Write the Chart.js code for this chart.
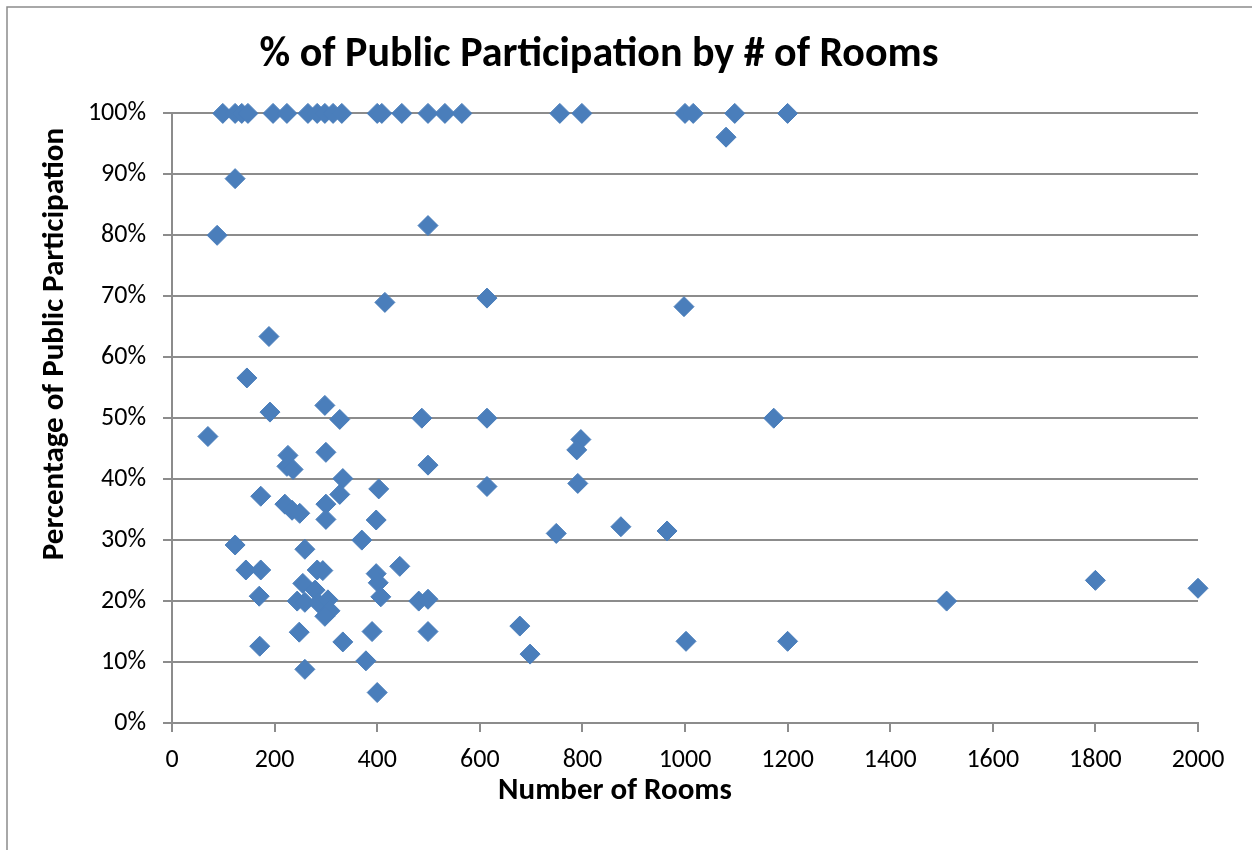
<!DOCTYPE html>
<html>
<head>
<meta charset="utf-8">
<title>% of Public Participation by # of Rooms</title>
<script src="https://cdn.jsdelivr.net/npm/chart.js@4.4.1/dist/chart.umd.min.js"></script>
<style>
  html, body { margin: 0; padding: 0; background: #fff; }
</style>
</head>
<body>
<canvas id="scatterChart" width="1252" height="850"></canvas>
<script>
// data: number of rooms vs % public participation
const rooms = [
  99, 123, 136, 148, 197, 224, 265, 283, 298, 314, 331, 400, 409, 448, 499, 532, 565, 756, 799, 1000, 1016, 1097, 1200,
  1080, 123, 88, 499, 614, 415, 998, 189, 146, 191, 298, 327, 487, 614, 1173, 70, 797, 789, 300, 226, 224, 236, 499,
  333, 403, 614, 791, 173, 327, 220, 300, 234, 249, 300, 398, 875, 965, 749, 370, 123, 259, 444, 144, 173, 283, 294,
  398, 402, 1800, 2000, 255, 279, 170, 407, 244, 259, 285, 304, 308, 298, 481, 499, 1510, 248, 390, 499, 678, 333,
  1002, 1200, 171, 378, 698, 259, 400
];
const participation = [
  100, 100, 100, 100, 100, 100, 100, 100, 100, 100, 100, 100, 100, 100, 100, 100, 100, 100, 100, 100, 100, 100, 100,
  96.1, 89.3, 80.0, 81.6, 69.7, 69.0, 68.3, 63.4, 56.6, 51.0, 52.1, 49.8, 50.0, 50.0, 50.0, 47.0, 46.5, 44.8, 44.4, 43.9, 42.1, 41.6, 42.3,
  40.1, 38.4, 38.8, 39.3, 37.2, 37.5, 35.9, 35.9, 34.9, 34.4, 33.4, 33.3, 32.2, 31.5, 31.1, 30.0, 29.2, 28.5, 25.7, 25.1, 25.1, 25.1, 25.0,
  24.5, 23.0, 23.4, 22.1, 22.9, 21.8, 20.8, 20.7, 20.0, 19.8, 19.7, 20.2, 18.4, 17.5, 20.0, 20.3, 20.0, 14.9, 15.0, 15.0, 15.9, 13.3,
  13.4, 13.4, 12.6, 10.2, 11.3, 8.8, 5.0
];
const xTicks = [0, 200, 400, 600, 800, 1000, 1200, 1400, 1600, 1800, 2000];
const yTicks = [0, 10, 20, 30, 40, 50, 60, 70, 80, 90, 100];

const chartTitle = '% of Public Participation by # of Rooms';
const xTitle = 'Number of Rooms';
const yTitle = 'Percentage of Public Participation';

const FONT = 'Carlito, Lato, sans-serif';
const GRID = '#8c8c8c';

const points = rooms.map((r, i) => ({ x: r, y: participation[i] }));

// outer frame + axis titles (Excel puts them off-centre)
const frameAndTitles = {
  id: 'frameAndTitles',
  beforeDraw(chart) {
    const ctx = chart.ctx;
    ctx.save();
    ctx.fillStyle = '#fff';
    ctx.fillRect(0, 0, chart.width, chart.height);
    ctx.strokeStyle = GRID;
    ctx.lineWidth = 1.5;
    ctx.beginPath();
    ctx.moveTo(7, chart.height);
    ctx.lineTo(7, 7);
    ctx.lineTo(chart.width, 7);
    ctx.stroke();
    ctx.restore();
  },
  afterDraw(chart) {
    const ctx = chart.ctx;
    ctx.save();
    ctx.fillStyle = '#000';
    ctx.font = 'bold 31px ' + FONT;
    ctx.textAlign = 'center';
    ctx.textBaseline = 'middle';
    ctx.fillText(xTitle, 615, 791);
    ctx.translate(55, 344);
    ctx.rotate(-Math.PI / 2);
    ctx.fillText(yTitle, 0, 0);
    ctx.restore();
  }
};

const config = {
  type: 'scatter',
  data: {
    datasets: [{
      label: 'Participation',
      data: points,
      pointStyle: 'rectRot',
      pointRadius: 10,
      pointHoverRadius: 10,
      backgroundColor: '#4a7ebb',
      borderColor: '#4a7ebb',
      borderWidth: 1,
      clip: false
    }]
  },
  options: {
    responsive: false,
    animation: false,
    devicePixelRatio: 1,
    layout: { padding: { left: 0, right: 54, top: 0, bottom: 0 } },
    plugins: {
      legend: { display: false },
      tooltip: { enabled: false },
      title: {
        display: true,
        text: chartTitle,
        color: '#000',
        font: { family: FONT, size: 42, weight: 'bold' },
        padding: { top: 30, bottom: 33 }
      }
    },
    scales: {
      x: {
        type: 'linear',
        min: 0,
        max: 2000,
        afterBuildTicks: (axis) => { axis.ticks = xTicks.map(v => ({ value: v })); },
        afterFit: (axis) => { axis.height = 127; },
        ticks: { color: '#000', font: { family: FONT, size: 26 }, padding: 13, maxRotation: 0, callback: (v) => String(v) },
        grid: { drawOnChartArea: false, drawTicks: true, tickLength: 9, color: GRID, lineWidth: 2 },
        border: { color: GRID, width: 2 }
      },
      y: {
        type: 'linear',
        min: 0,
        max: 100,
        afterBuildTicks: (axis) => { axis.ticks = yTicks.map(v => ({ value: v })); },
        afterFit: (axis) => { axis.width = 172; },
        ticks: { color: '#000', font: { family: FONT, size: 26 }, padding: 17, callback: (v) => v + '%' },
        grid: { drawTicks: true, tickLength: 9, color: GRID, lineWidth: 2 },
        border: { color: GRID, width: 2 }
      }
    }
  },
  plugins: [frameAndTitles]
};

const scatterChart = new Chart(document.getElementById('scatterChart'), config);
</script>
</body>
</html>
